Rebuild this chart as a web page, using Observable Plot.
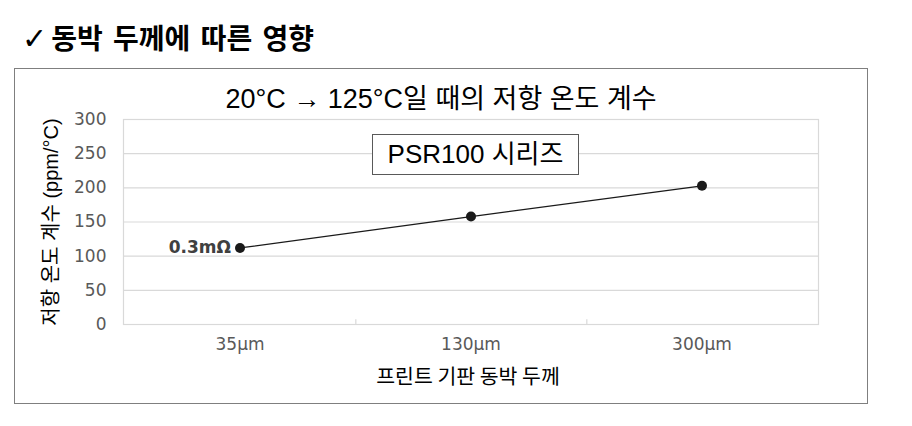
<!DOCTYPE html>
<html>
<head>
<meta charset="utf-8">
<script src="https://cdn.jsdelivr.net/npm/d3@7"></script>
<script src="https://cdn.jsdelivr.net/npm/@observablehq/plot@0.6"></script>
<style>
  body { margin: 0; background: #fff; }
  #page { position: relative; width: 912px; height: 426px; overflow: hidden; font-family: "Liberation Sans", "Noto Sans CJK KR", sans-serif; }
  #page svg { position: absolute; left: 0; top: 0; }
  .ov { position: absolute; z-index: 2; white-space: nowrap; }
  #head { left: 22px; top: 19px; font-family: "Noto Sans CJK KR", sans-serif; font-weight: 700; font-size: 28px; line-height: 36px; color: #000; word-spacing: 4px; }
  #head .chk { font-family: "DejaVu Sans", sans-serif; font-weight: 400; font-size: 30px; margin-right: 4px; position: relative; top: 0px; }
  #frame { left: 14px; top: 68px; width: 854px; height: 336px; box-sizing: border-box; border: 1.5px solid #7f7f7f; }
  #ctitle { left: 14px; width: 854px; top: 84px; text-align: center; font-size: 27px; line-height: 30px; color: #000; }
  #box { left: 372px; top: 134px; width: 207px; height: 41px; box-sizing: border-box; border: 1.5px solid #595959; background: #fff; font-size: 26px; line-height: 38px; text-align: center; color: #000; }
</style>
</head>
<body>
<div id="page">
  <div class="ov" id="head"><span class="chk">✓</span>동박 두께에 따른 영향</div>
  <div class="ov" id="frame"></div>
  <div class="ov" id="ctitle">20°C → 125°C일 때의 저항 온도 계수</div>
  <div class="ov" id="box">PSR100 시리즈</div>
</div>
<script>
const categories = ["35μm", "130μm", "300μm"];
const tcr = [112, 158, 203];
const yTicks = [0, 50, 100, 150, 200, 250, 300];
const pointLabels = ["0.3mΩ", "", ""];
const yTitle = "저항 온도 계수 (ppm/°C)";
const xTitle = "프린트 기판 동박 두께";

const data = categories.map((c, i) => ({thickness: c, value: tcr[i], label: pointLabels[i]}));

const W = 912, H = 426;
const mL = 123, mR = 94, mT = 119, mB = 102;
const halfBand = (W - mL - mR) / categories.length / 2;

const chart = Plot.plot({
  width: W,
  height: H,
  marginLeft: mL,
  marginRight: mR,
  marginTop: mT,
  marginBottom: mB,
  style: {background: "transparent", fontFamily: "'DejaVu Sans', 'Noto Sans CJK KR', sans-serif"},
  x: {type: "band", domain: categories, padding: 0, label: null},
  y: {domain: [0, 300], label: null},
  marks: [
    Plot.gridY(yTicks, {stroke: "#d9d9d9", strokeOpacity: 1, strokeWidth: 1.2}),
    Plot.frame({stroke: "#d9d9d9", strokeWidth: 1.2}),
    Plot.ruleX(categories.slice(0, -1), {x: d => d, dx: halfBand, y1: 0, y2: 7, stroke: "#d9d9d9", strokeWidth: 1.2}),
    Plot.axisY({ticks: yTicks, tickSize: 0, tickPadding: 17, fontSize: 17, fill: "#595959", label: null}),
    Plot.axisX({tickSize: 0, tickPadding: 13, fontSize: 17, fill: "#595959", label: null}),
    Plot.text([yTitle], {frameAnchor: "left", textAnchor: "middle", rotate: -90, dx: -72, fontSize: 20, fill: "#000", fontFamily: "'Liberation Sans', 'Noto Sans CJK KR', sans-serif"}),
    Plot.text([xTitle], {frameAnchor: "bottom", textAnchor: "middle", dy: 59, dx: -3, fontSize: 20.5, fill: "#000", fontFamily: "'Noto Sans CJK KR', sans-serif"}),
    Plot.line(data, {x: "thickness", y: "value", stroke: "#1a1a1a", strokeWidth: 1.3}),
    Plot.dot(data, {x: "thickness", y: "value", r: 5, fill: "#1a1a1a", stroke: "none"}),
    Plot.text(data, {x: "thickness", y: "value", text: "label", textAnchor: "end", dx: -9, fontSize: 17, fontWeight: "bold", fill: "#404040"})
  ]
});
document.getElementById("page").prepend(chart);
</script>
</body>
</html>
